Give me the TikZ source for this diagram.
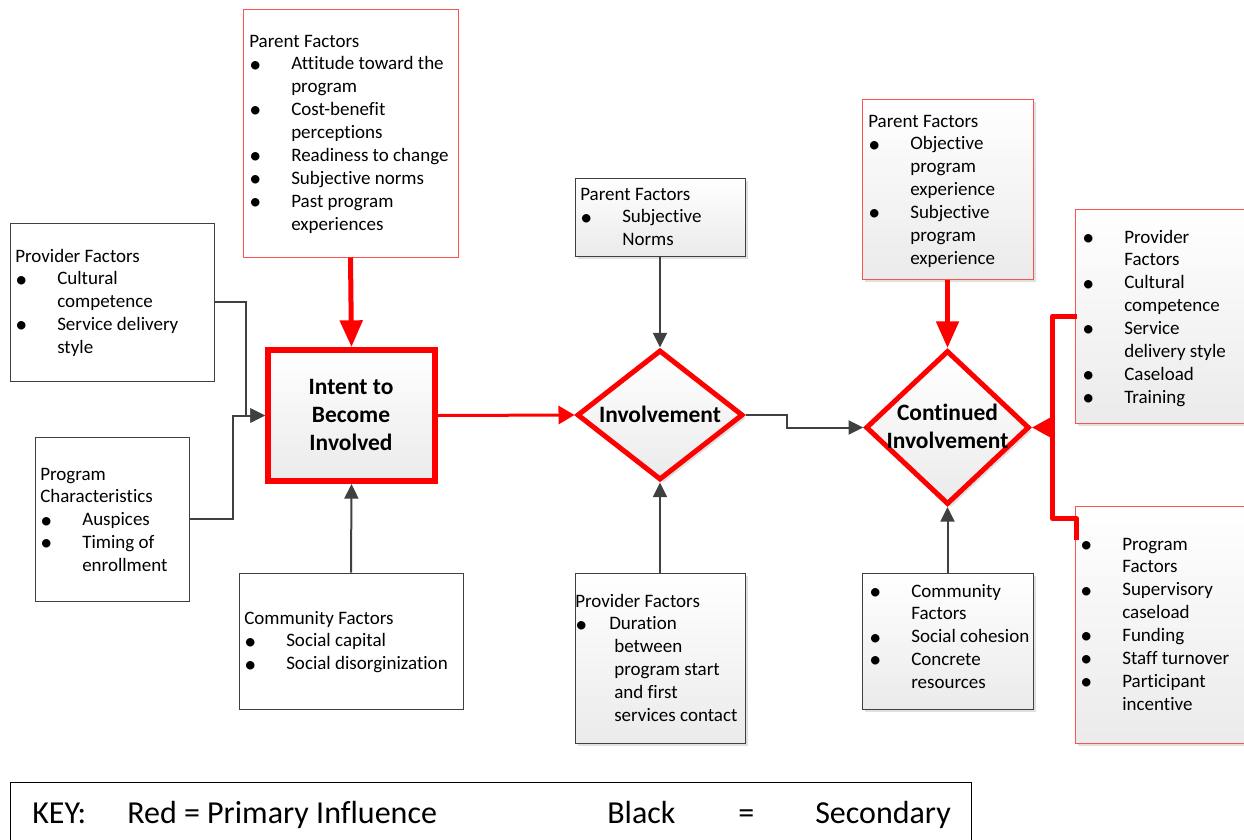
\documentclass[tikz,border=0pt]{standalone}
\usepackage{fontspec}
\setmainfont{Carlito}[Ligatures={NoCommon,NoContextual,NoRequired}]
\usetikzlibrary{arrows.meta,shapes.geometric,shadows,fit,calc}
\definecolor{dkgray}{HTML}{404040}
\definecolor{lred}{HTML}{FF5050}
\newcommand\bull{\raisebox{-1.6pt}{\fontsize{18pt}{18pt}\selectfont\textbullet}}
\newcommand\bl{\makebox[31.5pt][l]{\bull}}
\newcommand\ind{\hspace*{31.5pt}}
\newcommand\lst[1]{\begin{tabular}[t]{@{}l@{}}#1\end{tabular}}
\newcommand\clst[1]{\begin{tabular}[t]{@{}c@{}}#1\end{tabular}}
\begin{document}
\begin{tikzpicture}[x=0.75pt,y=-0.75pt,
 plainbox/.style={draw=dkgray,line width=0.75pt,fill=white,inner sep=0pt},
 redbox/.style={draw=lred,line width=0.75pt,inner sep=0pt},
 shadebox/.style={top color=white,bottom color=black!8,
   drop shadow={shadow xshift=2.5pt,shadow yshift=-2.5pt,fill=black!30,opacity=0.4}},
 txt/.style={inner sep=0pt,anchor=base west,font=\fontsize{14.25pt}{17.2pt}\selectfont},
 btxt/.style={inner sep=0pt,anchor=base,font=\fontsize{17.6pt}{21pt}\selectfont\bfseries},
 keytxt/.style={inner sep=0pt,anchor=base west,font=\fontsize{24pt}{28pt}\selectfont},
 graylink/.style={draw=dkgray,line width=1.5pt,-{Triangle[length=11pt,width=10.5pt]}},
 redlink/.style={draw=red,line width=3.75pt,-{Triangle[length=20pt,width=16.5pt]}},
 redmid/.style={draw=red,line width=2.25pt,-{Triangle[length=12pt,width=13.5pt]}},
 redbrk/.style={draw=red,line width=3.75pt,line join=round},
 redtip/.style={draw=red,line width=3.75pt,-{Triangle[length=13.5pt,width=13.5pt]}}
]
\useasboundingbox (0,0) rectangle (1244,839);

% ---- boxes ----
\node[redbox,fill=white,fit={(243,9) (458,257)}] (pt) {};
\node[plainbox,fit={(10,223) (214,381)}] (pl) {};
\node[plainbox,fit={(35,437) (189,601)}] (pc) {};
\node[plainbox,fit={(239,573) (463,709)}] (cl) {};
\node[draw=red,line width=4.5pt,inner sep=0pt,shadebox,fit={(268,350) (435,481)}] (intent) {};
\node[plainbox,shadebox,fit={(575,178) (745,256)}] (pm) {};
\node[plainbox,shadebox,fit={(575,573) (745,743)}] (pb) {};
\node[diamond,draw=red,line width=3.75pt,inner sep=0pt,shadebox,
  minimum width=124.5pt,minimum height=97.5pt] (inv) at (660,415) {};
\node[redbox,shadebox,fit={(862,99) (1033,279)}] (pr) {};
\node[diamond,draw=red,line width=3.75pt,inner sep=0pt,shadebox,
  minimum width=122.7pt,minimum height=115.5pt] (cont) at (947.5,427.5) {};
\node[plainbox,shadebox,fit={(862,573) (1033,709)}] (cr) {};
\node[redbox,shadebox,fit={(1075,209) (1260,423)}] (rt) {};
\node[redbox,shadebox,fit={(1075,506) (1260,743)}] (rb) {};
\node[draw=black,line width=0.75pt,inner sep=0pt,fit={(10,782) (971,860)}] (key) {};

% ---- texts ----
\node[txt] (tpt) at (249,47) {\lst{Parent Factors\\
\bl Attitude toward the\\ \ind program\\
\bl Cost-benefit\\ \ind perceptions\\
\bl Readiness to change\\
\bl Subjective norms\\
\bl Past program\\ \ind experiences}};
\node[txt] (tpl) at (15,262) {\lst{Provider Factors\\
\bl Cultural\\ \ind competence\\
\bl Service delivery\\ \ind style}};
\node[txt] (tpc) at (40,480) {\lst{Program\\ Characteristics\\
\bl Auspices\\
\bl Timing of\\ \ind enrollment}};
\node[txt] (tcl) at (244,624) {\lst{Community Factors\\
\bl Social capital\\
\bl Social disorginization}};
\node[txt] (tpm) at (580,200) {\lst{Parent Factors\\
\bl Subjective\\ \ind Norms}};
\node[txt] (tpb) at (575,607) {\lst{Provider Factors\\
\makebox[25.5pt][l]{\bull}Duration\\
\hspace*{29.25pt}between\\
\hspace*{29.25pt}program start\\
\hspace*{29.25pt}and first\\
\hspace*{29.25pt}services contact}};
\node[txt] (tpr) at (868,127) {\lst{Parent Factors\\
\bl Objective\\ \ind program\\ \ind experience\\
\bl Subjective\\ \ind program\\ \ind experience}};
\node[txt] (trt) at (1082,243) {\lst{\bl Provider\\ \ind Factors\\
\bl Cultural\\ \ind competence\\
\bl Service\\ \ind delivery style\\
\bl Caseload\\
\bl Training}};
\node[txt] (trb) at (1080,550) {\lst{\bl Program\\ \ind Factors\\
\bl Supervisory\\ \ind caseload\\
\bl Funding\\
\bl Staff turnover\\
\bl Participant\\ \ind incentive}};
\node[txt] (tcr) at (869,597) {\lst{\bl Community\\ \ind Factors\\
\bl Social cohesion\\
\bl Concrete\\ \ind resources}};
\node[btxt] (tint) at (351,394) {\clst{Intent to\\Become\\Involved}};
\node[btxt] (tinv) at (660,422) {Involvement};
\node[btxt] (tcont) at (947.5,420) {\clst{Continued\\Involvement}};
\node[keytxt] (k1) at (32,823) {KEY:};
\node[keytxt] (k2) at (127,823) {Red = Primary Influence};
\node[keytxt] (k3) at (607,823) {Black};
\node[keytxt] (k4) at (738,823) {=};
\node[keytxt] (k5) at (815,823) {Secondary};

% ---- connectors ----
\draw[redlink] (pt.south) -- (intent.north);
\draw[graylink] (pl.east) -- ++(31,0) |- (intent.west);
\draw[graylink] (pc.east) -- ++(43,0) |- (intent.west);
\draw[graylink] (cl.north) -- (intent.south);
\draw[redmid] (intent.east) -- (inv.west);
\draw[graylink] (pm.south) -- (inv.north);
\draw[graylink] (pb.north) -- (inv.south);
\draw[graylink] (inv.east) -- ++(41,0) |- (cont.west);
\draw[redlink] (pr.south) -- (cont.north);
\draw[graylink] (cr.north) -- (cont.south);
\draw[redbrk] ($(rt.west)+(2,0)$) -- ++(-24,0) coordinate (bk) |- ($(rb.north west)+(2,13)$) -- ++(0,21);
\draw[redtip] (bk |- cont.east) -- (cont.east);
\end{tikzpicture}
\end{document}
